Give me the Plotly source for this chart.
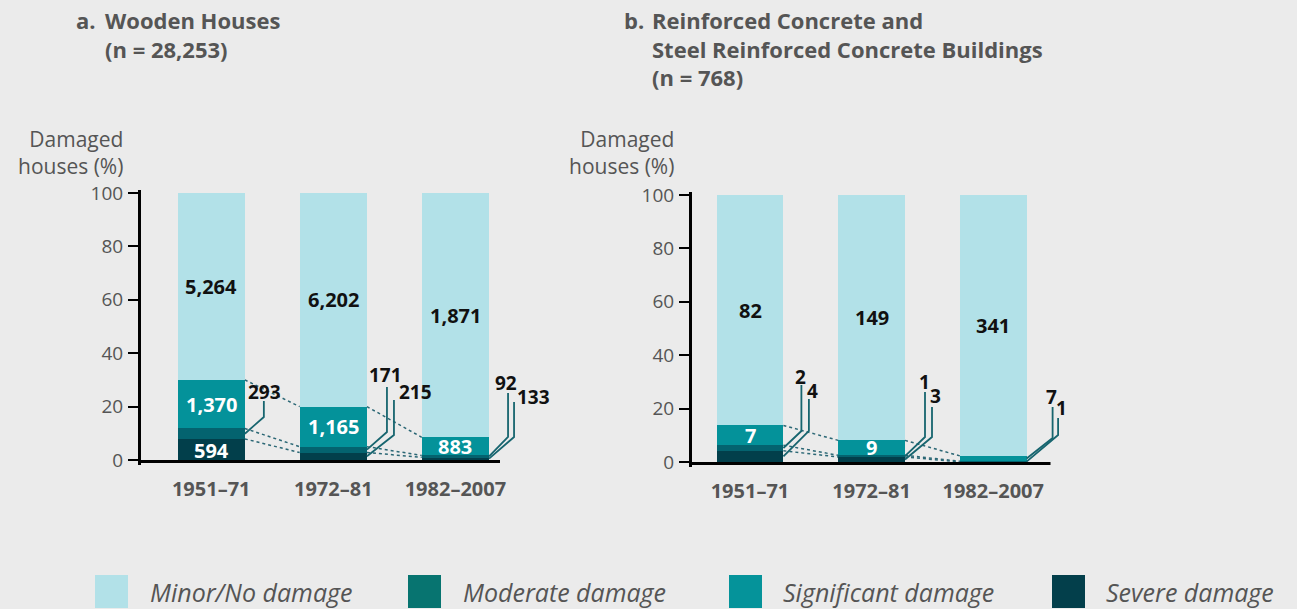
import plotly.graph_objects as go

# ---------------- data ----------------
periods = ["1951–71", "1972–81", "1982–2007"]
legend_names = ["Minor/No damage", "Moderate damage", "Significant damage", "Severe damage"]

# a. Wooden houses: share of houses (%) per damage level
wood_severe = [7.9, 2.8, 1.0]
wood_moderate = [3.9, 2.2, 0.7]
wood_significant = [18.2, 15.0, 6.8]
wood_minor = [70.0, 80.0, 91.5]
wood_minor_labels = ["5,264", "6,202", "1,871"]
wood_significant_labels = ["1,370", "1,165", "883"]
wood_severe_labels = ["594", "", ""]
wood_callout_bars = [0, 1, 1, 2, 2]
wood_callout_segments = ["moderate", "moderate", "severe", "moderate", "severe"]
wood_callout_labels = ["293", "171", "215", "92", "133"]

# b. RC and SRC buildings
rc_severe = [4.2, 1.9, 0.0]
rc_moderate = [2.1, 0.6, 0.3]
rc_significant = [7.4, 5.6, 2.0]
rc_minor = [86.3, 91.9, 97.7]
rc_minor_labels = ["82", "149", "341"]
rc_significant_labels = ["7", "9", ""]
rc_severe_labels = ["", "", ""]
rc_callout_bars = [0, 0, 1, 1, 2, 2]
rc_callout_segments = ["moderate", "severe", "moderate", "severe", "significant", "moderate"]
rc_callout_labels = ["2", "4", "1", "3", "7", "1"]

y_ticks = [0, 20, 40, 60, 80, 100]

title_a_prefix = "a."
title_a_lines = ["Wooden Houses", "(n = 28,253)"]
title_b_prefix = "b."
title_b_lines = ["Reinforced Concrete and", "Steel Reinforced Concrete Buildings", "(n = 768)"]

# ---------------- style / layout ----------------
W, H = 1297, 609
BG = "#ebebeb"
GREY = "#555555"
FONT = "Open Sans"
COL = {"minor": "#b2e1e8", "moderate": "#04636f", "significant": "#04929a", "severe": "#023f4b"}
LEG_COL = ["#b2e1e8", "#077470", "#05939a", "#033f4b"]
LEAD = "#17656f"
DOT = "#2b6775"

# panel geometry in pixels (xline = end of the drawn x-axis line, x1 = end of plotting area)
panels = [
    dict(x0=141, xline=500, x1=560, base=460, top=190, pxpct=2.67, c0=211.2, sp=122.1, bw=67.3,
         xa="x", ya="y", xaxis="xaxis", yaxis="yaxis"),
    dict(x0=692, xline=1050.5, x1=1090, base=462, top=192, pxpct=2.67, c0=750.0, sp=121.6, bw=66.8,
         xa="x2", ya="y2", xaxis="xaxis2", yaxis="yaxis2"),
]
YPAD = 5  # pixels of axis range below zero (room for the baseline line)

# callout leader geometry (pixels relative to bar right edge / baseline):
# (elbow dx, elbow height, top height, label dx, label height)
wood_callout_geom = [(19, 43, 59, 20, 68), (20, 28, 73, 19, 85), (27, 25, 60, 49, 68),
                     (19, 23, 67, 17, 77), (25, 23, 58, 44, 63)]
rc_callout_geom = [(18, 31, 77, 17, 85), (25.5, 31, 63, 29, 71), (20, 25, 70, 19, 80),
                   (27, 25, 55, 30, 66), (26, 24, 55, 25, 65), (31.5, 27, 44, 35, 54)]

datasets = [
    dict(severe=wood_severe, moderate=wood_moderate, significant=wood_significant, minor=wood_minor,
         minor_lbl=wood_minor_labels, sig_lbl=wood_significant_labels, sev_lbl=wood_severe_labels,
         cb=wood_callout_bars, cs=wood_callout_segments, cl=wood_callout_labels, cg=wood_callout_geom),
    dict(severe=rc_severe, moderate=rc_moderate, significant=rc_significant, minor=rc_minor,
         minor_lbl=rc_minor_labels, sig_lbl=rc_significant_labels, sev_lbl=rc_severe_labels,
         cb=rc_callout_bars, cs=rc_callout_segments, cl=rc_callout_labels, cg=rc_callout_geom),
]

fig = go.Figure()
shapes = []
annotations = []
layout_axes = {}

order = ["severe", "moderate", "significant", "minor"]
for p, d in zip(panels, datasets):
    xs = list(range(len(periods)))
    bwu = p["bw"] / p["sp"]
    for seg in order:
        fig.add_trace(go.Bar(x=xs, y=d[seg], width=bwu, marker=dict(color=COL[seg], line=dict(width=0)),
                             xaxis=p["xa"], yaxis=p["ya"], showlegend=False, hoverinfo="skip"))
    cum = {}
    run = [0.0] * len(xs)
    for seg in order:
        bottom = run[:]
        run = [a + b for a, b in zip(run, d[seg])]
        cum[seg] = (bottom, run[:])

    # labels inside bars
    for i in xs:
        b, t = cum["minor"]
        annotations.append(dict(x=i, y=(b[i] + t[i]) / 2, xref=p["xa"], yref=p["ya"], text="<b>%s</b>" % d["minor_lbl"][i],
                                showarrow=False, font=dict(family=FONT, size=20, color="#111111")))
        b, t = cum["significant"]
        if d["sig_lbl"][i]:
            annotations.append(dict(x=i, y=(b[i] + t[i]) / 2, xref=p["xa"], yref=p["ya"], text="<b>%s</b>" % d["sig_lbl"][i],
                                    showarrow=False, font=dict(family=FONT, size=20, color="white")))
        b, t = cum["severe"]
        if d["sev_lbl"][i]:
            annotations.append(dict(x=i, y=(b[i] + t[i]) / 2 - 0.4, xref=p["xa"], yref=p["ya"], text="<b>%s</b>" % d["sev_lbl"][i],
                                    showarrow=False, font=dict(family=FONT, size=20, color="white")))

    # dotted connectors between bars
    for i in xs[:-1]:
        for seg in ["severe", "moderate", "significant"]:
            shapes.append(dict(type="line", xref=p["xa"], yref=p["ya"],
                               x0=i + bwu / 2, y0=cum[seg][1][i], x1=i + 1 - bwu / 2, y1=cum[seg][1][i + 1],
                               line=dict(color=DOT, width=1.5, dash="dot"), layer="above"))

    # callouts
    for bar, seg, lbl, g in zip(d["cb"], d["cs"], d["cl"], d["cg"]):
        edx, eh, th, ldx, lh = g
        xr = bar + bwu / 2
        b, t = cum[seg]
        ys = (b[bar] + t[bar]) / 2
        xe = xr + edx / p["sp"]
        path = "M %f,%f L %f,%f L %f,%f" % (xr, ys, xe, eh / p["pxpct"], xe, th / p["pxpct"])
        shapes.append(dict(type="path", path=path, xref=p["xa"], yref=p["ya"],
                           line=dict(color=LEAD, width=1.8), layer="above"))
        annotations.append(dict(x=xr + ldx / p["sp"], y=lh / p["pxpct"], xref=p["xa"], yref=p["ya"],
                                text="<b>%s</b>" % lbl, showarrow=False,
                                font=dict(family=FONT, size=19, color="#111111")))

    xr0 = (p["x0"] - p["c0"]) / p["sp"]
    xr1 = (p["x1"] - p["c0"]) / p["sp"]
    xl = (p["xline"] - p["c0"]) / p["sp"]
    ymin = -YPAD / p["pxpct"]
    # baseline (x-axis line)
    shapes.append(dict(type="line", xref=p["xa"], yref=p["ya"], x0=xr0 - 1.5 / p["sp"], x1=xl,
                       y0=-1.5 / p["pxpct"], y1=-1.5 / p["pxpct"], line=dict(color="black", width=3), layer="above"))
    layout_axes[p["xaxis"]] = dict(domain=[p["x0"] / W, p["x1"] / W], range=[xr0, xr1],
                                   tickvals=xs, ticktext=["<b>%s</b>" % s for s in periods],
                                   showline=False, ticks="", automargin=False,
                                   showgrid=False, zeroline=False, anchor=p["ya"],
                                   tickfont=dict(family=FONT, size=20, color=GREY),
                                   ticklabelstandoff=10, fixedrange=True)
    layout_axes[p["yaxis"]] = dict(domain=[1 - (p["base"] + YPAD) / H, 1 - p["top"] / H],
                                   range=[ymin, (p["base"] - p["top"]) / p["pxpct"]],
                                   tickvals=y_ticks, showline=True, linecolor="black", linewidth=3,
                                   ticks="outside", ticklen=10, tickwidth=2, tickcolor="black",
                                   showgrid=False, zeroline=False, anchor=p["xa"], automargin=False,
                                   tickfont=dict(family=FONT, size=19, color=GREY),
                                   ticklabelstandoff=1, fixedrange=True)

# y-axis titles
for xr_px in [125, 676]:
    annotations.append(dict(x=xr_px / W, y=1 - 152 / H, xref="paper", yref="paper", xanchor="right", yanchor="middle",
                            align="right", text="Damaged<br>houses (%)", showarrow=False,
                            font=dict(family=FONT, size=21, color=GREY)))

# panel titles (prefix + hanging-indent block)
for prefix, lines, px_prefix, px_block in [(title_a_prefix, title_a_lines, 74, 103),
                                            (title_b_prefix, title_b_lines, 622, 650)]:
    annotations.append(dict(x=px_prefix / W, y=1 - 3 / H, xref="paper", yref="paper", xanchor="left", yanchor="top",
                            text="<b>%s</b>" % prefix, showarrow=False, font=dict(family=FONT, size=22, color=GREY)))
    annotations.append(dict(x=px_block / W, y=1 - 3 / H, xref="paper", yref="paper", xanchor="left", yanchor="top",
                            align="left", text="<br>".join("<b>%s</b>" % s for s in lines), showarrow=False,
                            font=dict(family=FONT, size=22, color=GREY)))

# legend (manual)
leg_sq_x = [95, 408, 729, 1052]
leg_txt_x = [148, 461, 781, 1104]
for name, c, sx, tx in zip(legend_names, LEG_COL, leg_sq_x, leg_txt_x):
    shapes.append(dict(type="rect", xref="paper", yref="paper", x0=sx / W, x1=(sx + 33) / W,
                       y0=1 - 608 / H, y1=1 - 575 / H, fillcolor=c, line=dict(width=0)))
    annotations.append(dict(x=tx / W, y=1 - 592 / H, xref="paper", yref="paper", xanchor="left", yanchor="middle",
                            text="<i>%s</i>" % name, showarrow=False, font=dict(family=FONT, size=25, color=GREY)))

fig.update_layout(width=W, height=H, autosize=False, margin=dict(l=0, r=0, t=0, b=0, pad=0, autoexpand=False),
                  paper_bgcolor=BG, plot_bgcolor="rgba(0,0,0,0)", barmode="stack", bargap=0,
                  showlegend=False, shapes=shapes, annotations=annotations, **layout_axes)

fig.write_html("out.html", config={"displayModeBar": False},
               post_script="document.body.style.margin='0';document.body.style.overflow='hidden';")
